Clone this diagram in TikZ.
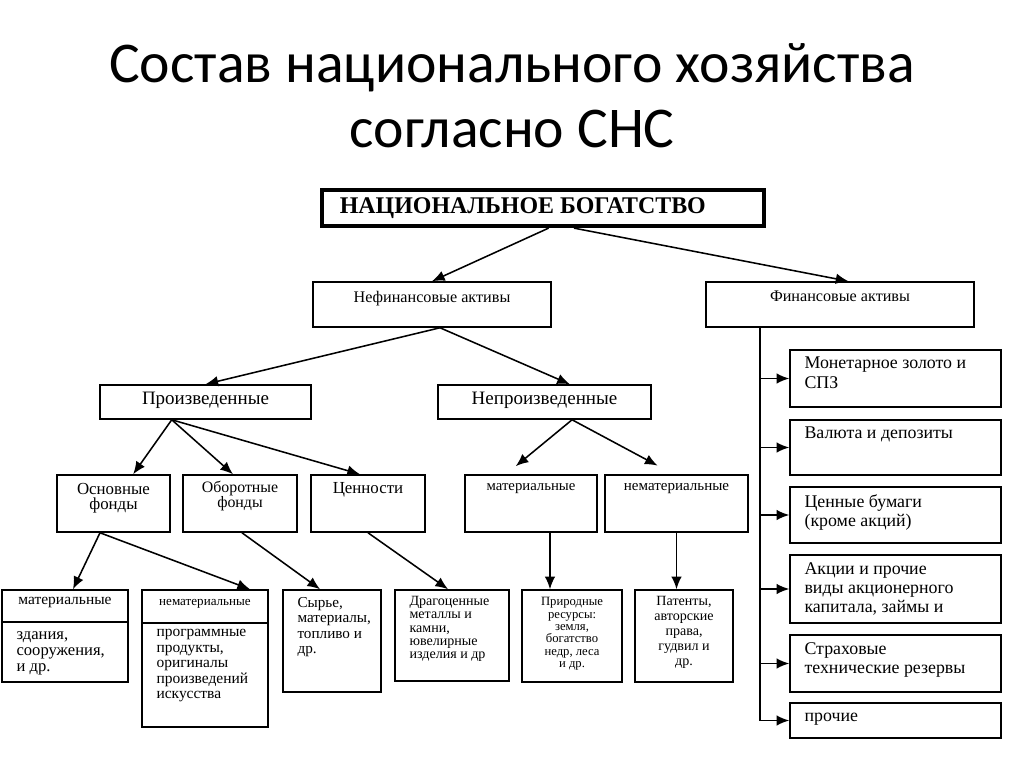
\documentclass[tikz,border=0pt]{standalone}
\usepackage{fontspec}
\setmainfont{Liberation Serif}
\newfontfamily\headfont{Carlito}
\usetikzlibrary{arrows.meta,positioning,fit}

\begin{document}
\begin{tikzpicture}[x=0.025cm,y=-0.025cm,>={Latex[length=9pt,width=7.5pt]},
                    box/.style={draw,line width=1.1pt,inner sep=0pt},
                    lbl/.style={inner sep=0pt,align=center},
                    lft/.style={inner sep=0pt,align=left},
                    conn/.style={->,line width=1.1pt},
                    line/.style={-,line width=1.1pt}]
  \useasboundingbox (0,0) rectangle (1024,767);

  \node[font=\headfont\fontsize{41}{46}\selectfont,align=center] (title) at (512,96)
    {Состав национального хозяйства\\согласно СНС};

  % top levels
  \node[box,line width=3pt,fit={(322,190) (764,226)}] (wealth) {};
  \node[lbl,font=\fontsize{17}{18}\selectfont\bfseries,right=14pt of wealth.west] (wealthT) {НАЦИОНАЛЬНОЕ БОГАТСТВО};

  \node[box,fit={(313,282) (551,327)}] (nefin) {};
  \node[lbl,font=\fontsize{11.5}{13}\selectfont,below=7pt of nefin.north] (nefinT) {Нефинансовые активы};
  \node[box,fit={(706,282) (974,327)}] (fin) {};
  \node[lbl,font=\fontsize{11.5}{13}\selectfont,below=7pt of fin.north] (finT) {Финансовые активы};

  \node[box,fit={(100,385) (311,419)}] (prod) {};
  \node[lbl,font=\fontsize{13.5}{14}\selectfont,below=5.4pt of prod.north] (prodT) {Произведенные};
  \node[box,fit={(438,385) (651,419)}] (nprod) {};
  \node[lbl,font=\fontsize{13.5}{14}\selectfont,below=5.4pt of nprod.north] (nprodT) {Непроизведенные};

  % third level
  \node[box,fit={(57,475) (170,532)}] (osn) {};
  \node[lbl,font=\fontsize{12}{11}\selectfont,below=6pt of osn.north] (osnT) {Основные\\фонды};
  \node[box,fit={(183,475) (297,532)}] (obor) {};
  \node[lbl,font=\fontsize{11.3}{11}\selectfont,below=4.5pt of obor.north] (oborT) {Оборотные\\фонды};
  \node[box,fit={(311,475) (425,532)}] (cen) {};
  \node[lbl,font=\fontsize{12}{12}\selectfont,below=6pt of cen.north] (cenT) {Ценности};
  \node[box,fit={(465,475) (597,532)}] (mat) {};
  \node[lbl,font=\fontsize{10.5}{11}\selectfont,below=6.5pt of mat.north] (matT) {материальные};
  \node[box,fit={(605,475) (748,532)}] (nmat) {};
  \node[lbl,font=\fontsize{10.7}{11}\selectfont,below=6.5pt of nmat.north] (nmatT) {нематериальные};

  % bottom level
  \node[box,fit={(2,590) (128,682)}] (bmat) {};
  \node[box,fit={(2,590) (128,622)},font=\fontsize{11}{11}\selectfont] (bmatH) {материальные};
  \node[lft,font=\fontsize{11.8}{11.5}\selectfont,below right=6pt and 10.7pt of bmat.west |- bmatH.south] (bmatT) {здания,\\сооружения,\\и др.};
  \node[box,fit={(142,590) (268,727)}] (bnmat) {};
  \node[box,fit={(142,590) (268,623)},font=\fontsize{9.3}{10}\selectfont] (bnmatH) {нематериальные};
  \node[lft,font=\fontsize{11}{11}\selectfont,below right=4pt and 10.7pt of bnmat.west |- bnmatH.south] (bnmatT) {программные\\продукты,\\оригиналы\\произведений\\искусства};
  \node[box,fit={(283,590) (381,692)}] (raw) {};
  \node[lft,font=\fontsize{10.8}{11}\selectfont,below right=5.5pt and 10.7pt of raw.north west] (rawT) {Сырье,\\материалы,\\топливо и\\др.};
  \node[box,fit={(395,590) (509,681)}] (prec) {};
  \node[lft,font=\fontsize{10}{9.4}\selectfont,below right=5pt and 10.7pt of prec.north west] (precT) {Драгоценные\\металлы и\\камни,\\ювелирные\\изделия и др};
  \node[box,fit={(522,590) (622,682)}] (nat) {};
  \node[lbl,font=\fontsize{9}{8.8}\selectfont,below=5.7pt of nat.north] (natT) {Природные\\ресурсы:\\земля,\\богатство\\недр, леса\\и др.};
  \node[box,fit={(635,590) (733,682)}] (pat) {};
  \node[lbl,font=\fontsize{10}{10.7}\selectfont,below=5pt of pat.north] (patT) {Патенты,\\авторские\\права,\\гудвил и\\др.};

  % financial assets
  \node[box,fit={(790,350) (1001,407)}] (mon) {};
  \node[box,fit={(790,420) (1001,475)}] (cur) {};
  \node[box,fit={(790,487) (1001,543)}] (sec) {};
  \node[box,fit={(790,555) (1001,623)}] (shr) {};
  \node[box,fit={(790,635) (1001,692)}] (ins) {};
  \node[box,fit={(790,703) (1001,738)}] (oth) {};
  \begin{scope}[every node/.style={lft,font=\fontsize{12.7}{13.6}\selectfont}]
    \node[below right=5.5pt and 10.7pt of mon.north west] (monT) {Монетарное золото и\\СПЗ};
    \node[below right=5.5pt and 10.7pt of cur.north west] (curT) {Валюта и депозиты};
    \node[below right=5.5pt and 10.7pt of sec.north west] (secT) {Ценные бумаги\\(кроме акций)};
    \node[below right=5.5pt and 10.7pt of shr.north west] (shrT) {Акции и прочие\\виды акционерного\\капитала, займы и};
    \node[below right=5.5pt and 10.7pt of ins.north west] (insT) {Страховые\\технические резервы};
    \node[below right=7.5pt and 10.7pt of oth.north west] (othT) {прочие};
  \end{scope}

  \coordinate (trunk) at (760,327);

  % connectors
  \draw[conn] ([xshift=4pt]wealth.south) -- (nefin.north);
  \draw[conn] ([xshift=22pt]wealth.south) -- ([xshift=6pt]fin.north);
  \draw[conn] ([xshift=5.7pt]nefin.south) -- (prod.north);
  \draw[conn] ([xshift=5.7pt]nefin.south) -- ([xshift=18pt]nprod.north);
  \draw[conn] ([xshift=-24pt]prod.south) -- ([xshift=14pt]osn.north);
  \draw[conn] ([xshift=-24pt]prod.south) -- ([xshift=-5pt]obor.north);
  \draw[conn] ([xshift=-24pt]prod.south) -- ([xshift=-5.7pt]cen.north);
  \draw[conn,shorten >=9pt] ([xshift=19.6pt]nprod.south) -- ([xshift=-17.8pt]mat.north);
  \draw[conn,shorten >=13pt] ([xshift=19.6pt]nprod.south) -- ([xshift=-2pt]nmat.north);
  \draw[conn] ([xshift=-9.6pt]osn.south) -- ([xshift=5.7pt]bmatH.north);
  \draw[conn] ([xshift=-9.6pt]osn.south) -- ([xshift=32pt]bnmatH.north);
  \draw[conn] ([xshift=1.4pt]obor.south) -- ([xshift=-8.5pt]raw.north);
  \draw[conn] (cen.south) -- ([xshift=-2.8pt]prec.north);
  \draw[conn] ([xshift=13.5pt]mat.south) -- ([xshift=13.5pt]mat.south |- nat.north);
  \draw[conn] (nmat.south) -- (nmat.south |- pat.north);

  \draw[line] (trunk) -- (trunk |- oth.west);
  \foreach \b in {mon,cur,sec,shr,ins,oth}
    \draw[conn] (trunk |- \b.west) -- (\b.west);
\end{tikzpicture}
\end{document}
